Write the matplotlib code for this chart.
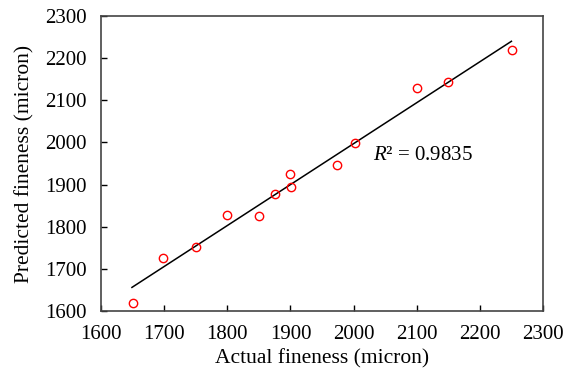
import numpy as np
import matplotlib
matplotlib.use("Agg")
import matplotlib.pyplot as plt

plt.rcParams['font.family'] = ['Liberation Serif', 'DejaVu Serif']
plt.rcParams['mathtext.fontset'] = 'custom'
plt.rcParams['mathtext.it'] = 'Liberation Serif:italic'
plt.rcParams['mathtext.rm'] = 'Liberation Serif'

actual = [1651, 1698, 1750, 1800, 1850, 1875, 1900, 1901, 1974, 2002, 2100, 2150, 2251]
predicted = [1620, 1726, 1753, 1828, 1825, 1877, 1925, 1894, 1946, 1999, 2130, 2144, 2219]
fit_x = [1649, 2250]
fit_y = [1656, 2240]
ticks = [1600, 1700, 1800, 1900, 2000, 2100, 2200, 2300]

fig = plt.figure(figsize=(5.65, 3.77), dpi=100)
ax = fig.add_axes([101/565, 1 - 311/377, (543-101)/565, (311-16)/377])

ax.plot(fit_x, fit_y, color='black', lw=1.1)
ax.plot(actual, predicted, 'o', mfc='none', mec='red', ms=6, mew=1.0)

ax.set_xlim(1600, 2300)
ax.set_ylim(1600, 2300)
ax.set_xticks(ticks)
ax.set_yticks(ticks)
ax.tick_params(direction='in', length=4.5, width=1, labelsize=15, colors='black')
ax.tick_params(axis='x', pad=10)
ax.tick_params(axis='y', pad=10)
for s in ax.spines.values():
    s.set_color('#444444')
    s.set_linewidth(1.2)

ax.set_xlabel('Actual fineness (micron)', fontsize=15.5, labelpad=4)
ax.set_ylabel('Predicted fineness (micron)', fontsize=15.5, labelpad=8)

ax.text(2031, 1970, r'$R$² = 0.9835', fontsize=15, va='center', ha='left')

fig.savefig('out.png', dpi=100)
